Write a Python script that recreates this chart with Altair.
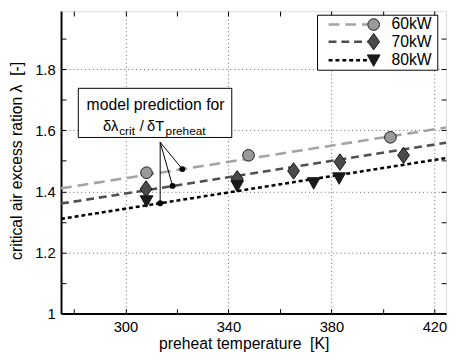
import altair as alt
import pandas as pd

# ---------------- data ----------------
series = ["60kW", "70kW", "80kW"]

line_T = [275.0, 424.5]
line_60 = [1.410, 1.609]
line_70 = [1.360, 1.559]
line_80 = [1.310, 1.509]

pts_60_T = [308.2, 347.8, 402.9]
pts_60_lam = [1.461, 1.518, 1.577]
pts_70_T = [308.0, 343.4, 365.3, 383.3, 408.0]
pts_70_lam = [1.408, 1.441, 1.467, 1.496, 1.518]
pts_80_T = [308.2, 343.4, 373.1, 383.0]
pts_80_lam = [1.368, 1.418, 1.427, 1.443]

model_T = [322.1, 318.3, 313.5]
model_lam = [1.473, 1.418, 1.361]
callout_T = [313.5]
callout_lam = [1.561]

x_major = [300, 340, 380, 420]
x_minor = [280, 300, 320, 340, 360, 380, 400, 420]
y_major = [1.0, 1.2, 1.4, 1.6, 1.8]
y_minor = [1.0, 1.1, 1.2, 1.3, 1.4, 1.5, 1.6, 1.7, 1.8, 1.9]

x_title = "preheat temperature\u00a0 [K]"
y_title = "critical air excess ration \u03bb\u00a0 [-]"

note_line1 = "model prediction for"
note_main = ["\u03b4\u03bb", "/", "\u03b4T"]
note_sub = ["crit", "preheat"]

# annotation / legend placement (data coordinates)
note_box_T = [281.7, 341.3]
note_box_lam = [1.5765, 1.7373]
note_line1_T = [311.7]
note_line1_lam = [1.6656]
note_main_T = [291.3, 305.6, 308.4]
note_main_lam = [1.598, 1.598, 1.598]
note_sub_T = [297.6, 315.6]
note_sub_lam = [1.5836, 1.5836]

leg_box_T = [374.6, 421.3]
leg_box_lam = [1.7965, 1.9765]
leg_row_lam = [1.946, 1.890, 1.829]
leg_line_T = [378.9, 394.1]
leg_marker_T = [396.4]
leg_text_T = [403.3]

# ---------------- styles ----------------
FONT = "Liberation Sans"
colors = ["#a3a3a3", "#4f4f4f", "#000000"]
dashes = [[11, 6], [8, 5], [4, 3]]
fills = ["#9a9a9a", "#4a4a4a", "#1a1a1a"]
shapes = ["circle", "M0,-1.4L1,0L0,1.4L-1,0Z", "M-1,-0.85L1,-0.85L0,0.95Z"]
sizes = [140, 144, 169]

XD = [275, 424.5]
YD = [1.0, 1.99]
xs = alt.Scale(domain=XD, nice=False, zero=False)
ys = alt.Scale(domain=YD, nice=False, zero=False)

# ---------------- frames ----------------
lines_df = pd.DataFrame({
    "T": line_T * 3,
    "lam": line_60 + line_70 + line_80,
    "series": [series[0]] * 2 + [series[1]] * 2 + [series[2]] * 2,
})
pts = [
    pd.DataFrame({"T": pts_60_T, "lam": pts_60_lam}),
    pd.DataFrame({"T": pts_70_T, "lam": pts_70_lam}),
    pd.DataFrame({"T": pts_80_T, "lam": pts_80_lam}),
]

# ---------------- axes ----------------
common = dict(labelFont=FONT, titleFont=FONT, labelColor="black", titleColor="black")
x_lab_axis = alt.Axis(values=x_major, format="d", labelFontSize=15, labelPadding=6,
                      ticks=False, tickSize=0, grid=True, gridDash=[1, 3], gridColor="#666",
                      gridWidth=1, domain=True, domainColor="black", domainWidth=2,
                      title=x_title, titleFontSize=16, titleFontWeight="normal",
                      titleX=186, titleY=31, titleBaseline="middle", **common)
y_lab_axis = alt.Axis(values=y_major, format="~g", labelFontSize=15, labelPadding=6,
                      ticks=False, tickSize=0, grid=True, gridDash=[1, 3], gridColor="#666",
                      gridWidth=1, domain=True, domainColor="black", domainWidth=2,
                      title=y_title, titleFontSize=16, titleFontWeight="normal",
                      titleX=-45, titleY=152, titleBaseline="middle", **common)


def tick_axis(values, orient):
    return alt.Axis(values=values, orient=orient, labels=False, ticks=True, tickSize=5,
                    tickColor="black", tickWidth=1, domain=False, grid=False,
                    offset=-5, title=None)


# ---------------- layers ----------------
line_layer = alt.Chart(lines_df).mark_line(strokeWidth=2.6).encode(
    x=alt.X("T:Q", scale=xs, axis=x_lab_axis),
    y=alt.Y("lam:Q", scale=ys, axis=y_lab_axis),
    color=alt.Color("series:N", scale=alt.Scale(domain=series, range=colors), legend=None),
    strokeDash=alt.StrokeDash("series:N", scale=alt.Scale(domain=series, range=dashes), legend=None),
    detail="series:N",
)

axes_for_pts = [
    (tick_axis(x_minor, "bottom"), tick_axis(y_minor, "left")),
    (tick_axis(x_minor, "top"), tick_axis(y_minor, "right")),
    (None, None),
]

point_layers = []
for i in range(3):
    xa, ya = axes_for_pts[i]
    point_layers.append(
        alt.Chart(pts[i]).mark_point(filled=True, opacity=1, fill=fills[i], stroke="#1a1a1a",
                                     strokeWidth=1, shape=shapes[i], size=sizes[i]).encode(
            x=alt.X("T:Q", scale=xs, axis=xa),
            y=alt.Y("lam:Q", scale=ys, axis=ya),
        )
    )

# annotation
rules_df = pd.DataFrame({
    "T": callout_T * 3, "lam": callout_lam * 3,
    "T2": model_T, "lam2": model_lam,
})
rule_layer = alt.Chart(rules_df).mark_rule(color="black", strokeWidth=1).encode(
    x=alt.X("T:Q", scale=xs, axis=None), y=alt.Y("lam:Q", scale=ys, axis=None),
    x2="T2:Q", y2="lam2:Q",
)
dot_layer = alt.Chart(pd.DataFrame({"T": model_T, "lam": model_lam})).mark_point(
    filled=True, opacity=1, color="black", size=36, shape="circle").encode(
    x=alt.X("T:Q", scale=xs, axis=None), y=alt.Y("lam:Q", scale=ys, axis=None))

box_df = pd.DataFrame({"T": [note_box_T[0]], "T2": [note_box_T[1]],
                       "lam": [note_box_lam[0]], "lam2": [note_box_lam[1]]})
note_box = alt.Chart(box_df).mark_rect(fill="white", stroke="black", strokeWidth=1).encode(
    x=alt.X("T:Q", scale=xs, axis=None), x2="T2:Q",
    y=alt.Y("lam:Q", scale=ys, axis=None), y2="lam2:Q")

note_t1 = alt.Chart(pd.DataFrame({"T": note_line1_T, "lam": note_line1_lam, "t": [note_line1]})).mark_text(
    font=FONT, fontSize=16, align="center", baseline="alphabetic", color="black").encode(
    x=alt.X("T:Q", scale=xs, axis=None), y=alt.Y("lam:Q", scale=ys, axis=None), text="t:N")
note_t2 = alt.Chart(pd.DataFrame({"T": note_main_T, "lam": note_main_lam, "t": note_main})).mark_text(
    font=FONT, fontSize=15, align="left", baseline="alphabetic", color="black").encode(
    x=alt.X("T:Q", scale=xs, axis=None), y=alt.Y("lam:Q", scale=ys, axis=None), text="t:N")
note_t3 = alt.Chart(pd.DataFrame({"T": note_sub_T, "lam": note_sub_lam, "t": note_sub})).mark_text(
    font=FONT, fontSize=12, align="left", baseline="alphabetic", color="black").encode(
    x=alt.X("T:Q", scale=xs, axis=None), y=alt.Y("lam:Q", scale=ys, axis=None), text="t:N")

# legend (drawn inside plot)
leg_box_df = pd.DataFrame({"T": [leg_box_T[0]], "T2": [leg_box_T[1]],
                           "lam": [leg_box_lam[0]], "lam2": [leg_box_lam[1]]})
leg_box = alt.Chart(leg_box_df).mark_rect(fill="white", stroke="black", strokeWidth=1).encode(
    x=alt.X("T:Q", scale=xs, axis=None), x2="T2:Q",
    y=alt.Y("lam:Q", scale=ys, axis=None), y2="lam2:Q")
leg_lines_df = pd.DataFrame({"T": [leg_line_T[0]] * 3, "T2": [leg_line_T[1]] * 3,
                             "lam": leg_row_lam, "series": series})
leg_lines = alt.Chart(leg_lines_df).mark_rule(strokeWidth=2.6).encode(
    x=alt.X("T:Q", scale=xs, axis=None), x2="T2:Q",
    y=alt.Y("lam:Q", scale=ys, axis=None),
    color=alt.Color("series:N", scale=alt.Scale(domain=series, range=colors), legend=None),
    strokeDash=alt.StrokeDash("series:N", scale=alt.Scale(domain=series, range=dashes), legend=None),
)
leg_marks = []
for i in range(3):
    leg_marks.append(
        alt.Chart(pd.DataFrame({"T": leg_marker_T, "lam": [leg_row_lam[i]]})).mark_point(
            filled=True, opacity=1, fill=fills[i], stroke="#1a1a1a", strokeWidth=1,
            shape=shapes[i], size=sizes[i]).encode(
            x=alt.X("T:Q", scale=xs, axis=None), y=alt.Y("lam:Q", scale=ys, axis=None))
    )
leg_text = alt.Chart(pd.DataFrame({"T": leg_text_T * 3, "lam": leg_row_lam, "t": series})).mark_text(
    font=FONT, fontSize=16, align="left", baseline="middle", color="black").encode(
    x=alt.X("T:Q", scale=xs, axis=None), y=alt.Y("lam:Q", scale=ys, axis=None), text="t:N")

chart = alt.layer(
    line_layer, *point_layers, rule_layer, dot_layer,
    note_box, note_t1, note_t2, note_t3,
    leg_box, leg_lines, *leg_marks, leg_text,
).resolve_axis(x="independent", y="independent").properties(
    width=392, height=308,
    autosize=alt.AutoSizeParams(type="none"),
    padding={"left": 54, "top": 0, "right": 2, "bottom": 40},
).configure_view(stroke="#222", strokeWidth=1).configure(font=FONT).configure_axis(
    titleFontWeight="normal")

chart.save("out.html", embed_options={"renderer": "svg", "actions": False})
